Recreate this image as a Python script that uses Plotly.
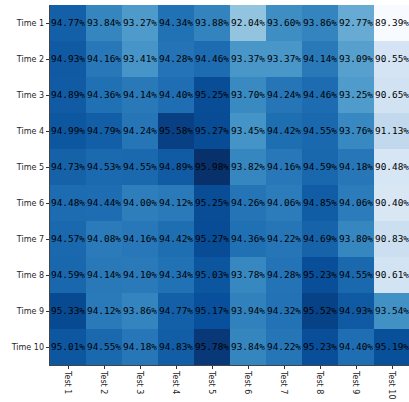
import plotly.graph_objects as go

# Test columns and time rows
tests = ["Test 1", "Test 2", "Test 3", "Test 4", "Test 5",
         "Test 6", "Test 7", "Test 8", "Test 9", "Test 10"]
times = ["Time 1", "Time 2", "Time 3", "Time 4", "Time 5",
         "Time 6", "Time 7", "Time 8", "Time 9", "Time 10"]

# Accuracy (%) per time (row) and test (column)
time_1 = [94.77, 93.84, 93.27, 94.34, 93.88, 92.04, 93.60, 93.86, 92.77, 89.39]
time_2 = [94.93, 94.16, 93.41, 94.28, 94.46, 93.37, 93.37, 94.14, 93.09, 90.55]
time_3 = [94.89, 94.36, 94.14, 94.40, 95.25, 93.70, 94.24, 94.46, 93.25, 90.65]
time_4 = [94.99, 94.79, 94.24, 95.58, 95.27, 93.45, 94.42, 94.55, 93.76, 91.13]
time_5 = [94.73, 94.53, 94.55, 94.89, 95.98, 93.82, 94.16, 94.59, 94.18, 90.48]
time_6 = [94.48, 94.44, 94.00, 94.12, 95.25, 94.26, 94.06, 94.85, 94.06, 90.40]
time_7 = [94.57, 94.08, 94.16, 94.42, 95.27, 94.36, 94.22, 94.69, 93.80, 90.83]
time_8 = [94.59, 94.14, 94.10, 94.34, 95.03, 93.78, 94.28, 95.23, 94.55, 90.61]
time_9 = [95.33, 94.12, 93.86, 94.77, 95.17, 93.94, 94.32, 95.52, 94.93, 93.54]
time_10 = [95.01, 94.55, 94.18, 94.83, 95.78, 93.84, 94.22, 95.23, 94.40, 95.19]

z = [time_1, time_2, time_3, time_4, time_5,
     time_6, time_7, time_8, time_9, time_10]
labels = [[f"{v:.2f}%" for v in row] for row in z]

# Sequential blue palette (light -> dark)
blues = ["#f7fbff", "#deebf7", "#c6dbef", "#9ecae1", "#6baed6",
         "#4292c6", "#2171b5", "#08519c", "#08306b"]
colorscale = [[i / (len(blues) - 1), c] for i, c in enumerate(blues)]

flat = [v for row in z for v in row]

fig = go.Figure(go.Heatmap(
    z=z, x=tests, y=times,
    text=labels, texttemplate="%{text}",
    textfont=dict(family="DejaVu Sans Mono", size=9.4, color="black"),
    colorscale=colorscale, zmin=min(flat), zmax=max(flat),
    showscale=False, xgap=0, ygap=0, hoverinfo="skip",
))

W, H = 409, 402
L, R, T, B = 50, 0, 5, 37
cell = (H - T - B) / len(times)
span = (W - L - R) / cell

fig.update_layout(
    width=W, height=H,
    margin=dict(l=L, r=R, t=T, b=B, pad=0),
    paper_bgcolor="white", plot_bgcolor="white",
    font=dict(family="DejaVu Sans", size=8, color="#262626"),
    xaxis=dict(
        range=[-0.5, -0.5 + span], tickangle=90,
        ticks="outside", ticklen=3.5, tickwidth=0.8, tickcolor="#333",
        showline=True, linecolor="#444", linewidth=0.8,
        showgrid=False, zeroline=False, fixedrange=True,
    ),
    yaxis=dict(
        autorange="reversed",
        ticks="outside", ticklen=3.5, tickwidth=0.8, tickcolor="#333",
        showline=True, linecolor="#444", linewidth=0.8,
        showgrid=False, zeroline=False, fixedrange=True,
    ),
)

fig.write_html("out.html")
